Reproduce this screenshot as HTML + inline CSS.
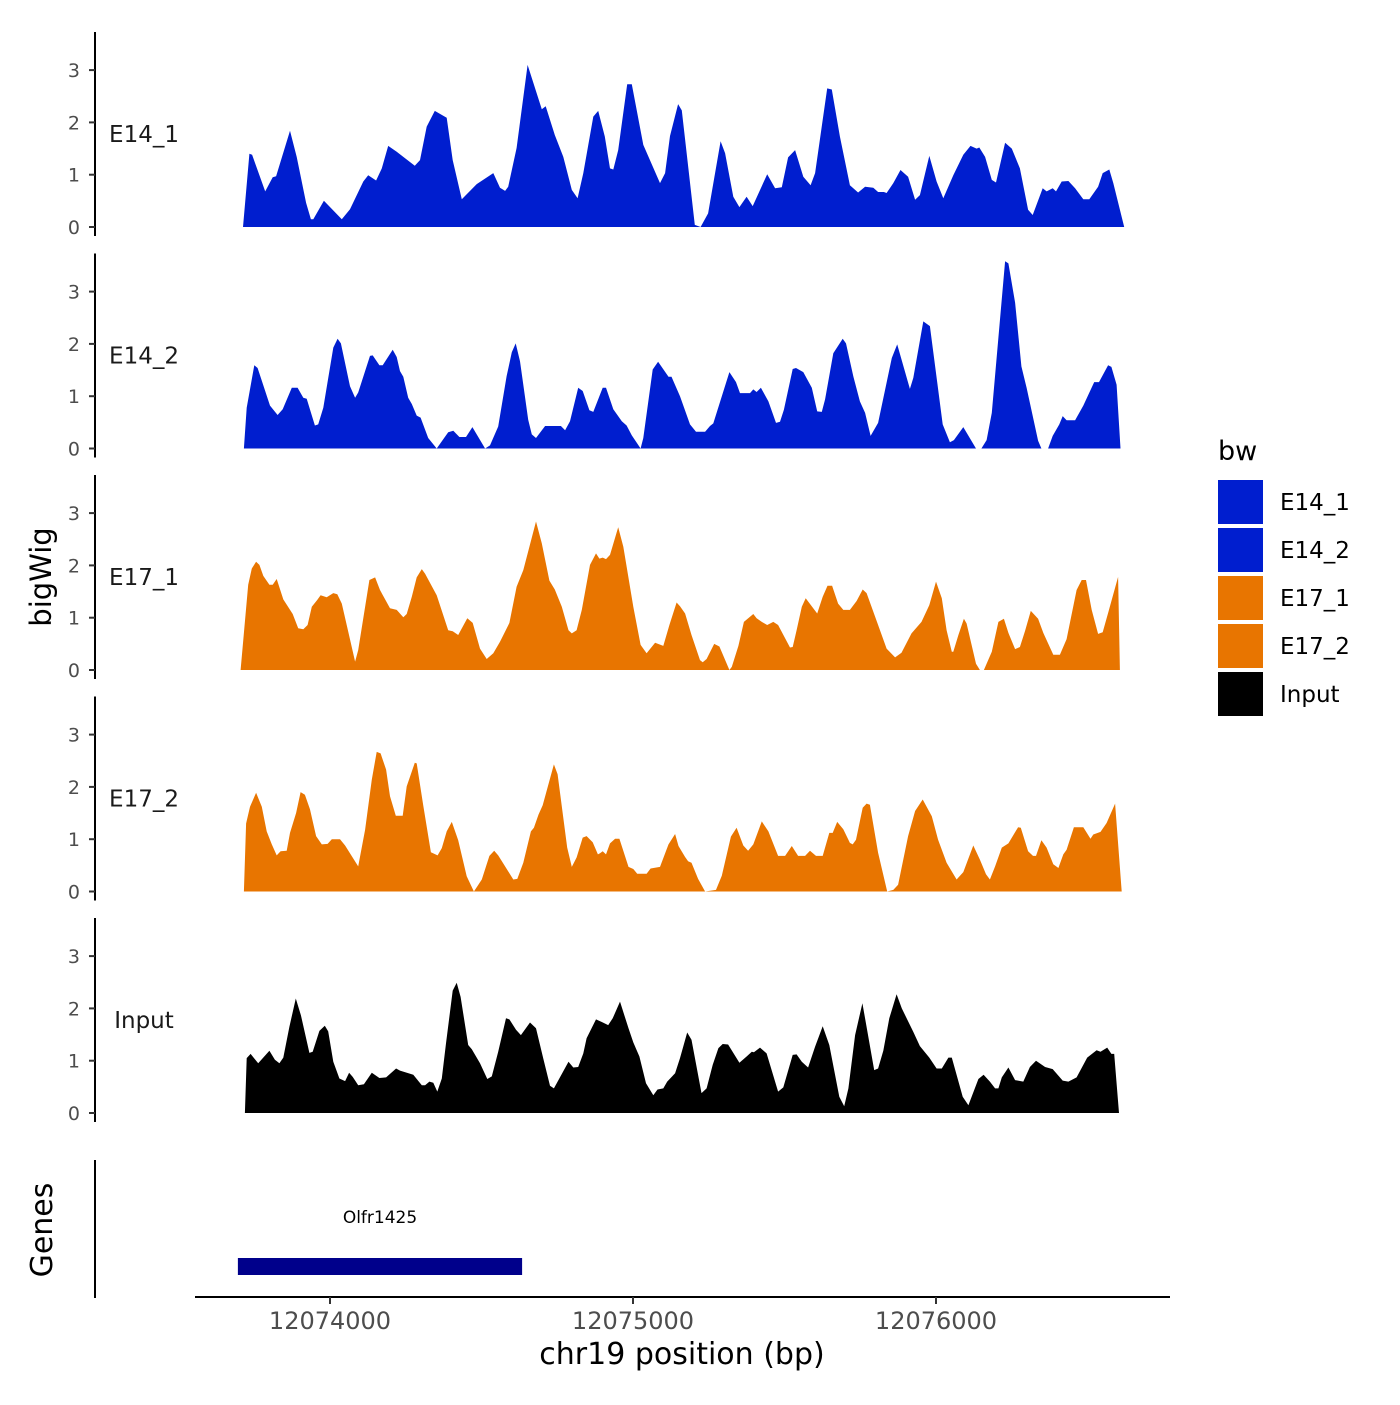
<!DOCTYPE html>
<html><head><meta charset="utf-8"><style>
html,body{margin:0;padding:0;background:#fff;}
svg text{font-family:"DejaVu Sans","Liberation Sans",sans-serif;}
</style></head><body>
<svg id="chart" xmlns="http://www.w3.org/2000/svg" width="1400" height="1400" viewBox="0 0 1400 1400">
<rect width="1400" height="1400" fill="#fff"/>
<g id="panels"></g>
<text transform="translate(51,577) rotate(-90)" text-anchor="middle" font-size="29" fill="#000">bigWig</text>
<text transform="translate(52,1230) rotate(-90)" text-anchor="middle" font-size="30" fill="#000">Genes</text>
<line x1="95" y1="1160" x2="95" y2="1298" stroke="#000" stroke-width="2"/>
<g id="genes"></g>
<line x1="195" y1="1297" x2="1170" y2="1297" stroke="#000" stroke-width="2"/>
<g id="xaxis"></g>
<text x="682" y="1364" text-anchor="middle" font-size="30" fill="#000">chr19 position (bp)</text>
<g id="legend"></g>
</svg>
<script>
const origin = 12074000;
const xTicks = [12074000, 12075000, 12076000];
const yTicks = [0, 1, 2, 3];
const trackNames = ["E14_1", "E14_2", "E17_1", "E17_2", "Input"];
const trackColors = ["#001ECF", "#001ECF", "#E87500", "#E87500", "#000000"];

const e14_1_pos = [-287,-266,-257,-214,-189,-178,-132,-110,-79,-63,-55,-20,39,66,110,126,152,171,192,220,253,280,297,319,346,385,405,435,484,539,561,578,588,616,652,699,712,742,770,798,817,836,869,885,907,924,935,951,981,996,1034,1089,1106,1122,1149,1161,1204,1223,1248,1289,1304,1331,1351,1375,1395,1443,1469,1491,1512,1535,1562,1586,1601,1641,1656,1683,1716,1743,1766,1793,1809,1828,1837,1859,1883,1908,1931,1947,1978,2002,2024,2057,2090,2114,2134,2143,2162,2184,2198,2228,2250,2277,2304,2319,2352,2365,2385,2396,2415,2437,2459,2486,2506,2535,2550,2572,2585,2621];
const e14_1_val = [0,1.40,1.38,0.68,0.95,0.97,1.84,1.34,0.46,0.15,0.15,0.50,0.15,0.34,0.87,0.99,0.89,1.12,1.55,1.44,1.29,1.17,1.28,1.92,2.22,2.09,1.28,0.53,0.82,1.03,0.75,0.69,0.77,1.51,3.10,2.25,2.31,1.76,1.34,0.71,0.55,1.03,2.11,2.22,1.73,1.12,1.10,1.47,2.73,2.73,1.57,0.84,1.03,1.74,2.35,2.23,0.04,0,0.26,1.64,1.41,0.58,0.38,0.58,0.40,1.01,0.74,0.76,1.33,1.47,0.96,0.80,1.03,2.65,2.63,1.73,0.80,0.66,0.77,0.75,0.67,0.67,0.65,0.84,1.09,0.96,0.52,0.61,1.36,0.87,0.55,0.99,1.38,1.55,1.50,1.52,1.34,0.90,0.85,1.61,1.50,1.12,0.33,0.23,0.74,0.68,0.74,0.68,0.87,0.88,0.74,0.53,0.53,0.77,1.03,1.10,0.84,0];

const e14_2_pos = [-284,-275,-250,-239,-198,-173,-156,-126,-107,-88,-77,-50,-39,-22,11,25,36,66,83,93,132,141,163,174,207,220,231,242,258,270,286,299,324,352,390,407,427,449,470,512,528,555,583,600,613,627,654,666,680,710,762,776,792,819,834,856,869,900,911,935,963,979,996,1025,1034,1065,1083,1117,1127,1155,1188,1208,1238,1254,1265,1318,1340,1353,1386,1397,1408,1422,1447,1472,1485,1498,1527,1538,1562,1590,1608,1623,1634,1661,1692,1703,1727,1749,1766,1784,1809,1854,1872,1914,1925,1958,1980,2022,2046,2059,2090,2132,2150,2167,2184,2228,2239,2261,2282,2299,2337,2348,2370,2385,2407,2418,2431,2459,2486,2522,2538,2568,2579,2596,2609];
const e14_2_val = [0,0.78,1.59,1.54,0.82,0.64,0.75,1.16,1.16,0.97,0.95,0.44,0.46,0.78,1.93,2.10,2.01,1.19,0.97,1.07,1.77,1.78,1.59,1.59,1.89,1.75,1.48,1.37,0.97,0.85,0.63,0.59,0.20,0,0.31,0.34,0.22,0.22,0.41,0,0.06,0.42,1.38,1.84,2.01,1.67,0.55,0.27,0.20,0.43,0.43,0.35,0.52,1.16,1.10,0.73,0.70,1.16,1.16,0.75,0.52,0.44,0.25,0,0.20,1.51,1.66,1.37,1.37,1.00,0.46,0.32,0.32,0.43,0.48,1.46,1.27,1.06,1.06,1.13,1.08,1.16,0.90,0.49,0.51,0.74,1.52,1.54,1.46,1.16,0.71,0.70,0.94,1.82,2.10,2.01,1.38,0.90,0.68,0.24,0.49,1.73,1.99,1.14,1.35,2.43,2.34,0.46,0.12,0.16,0.41,0,0,0.16,0.68,3.58,3.54,2.79,1.57,1.16,0.15,0,0,0.24,0.46,0.62,0.54,0.54,0.82,1.27,1.27,1.59,1.56,1.22,0];

const e17_1_pos = [-295,-270,-258,-244,-233,-220,-200,-189,-176,-154,-123,-105,-88,-74,-60,-42,-31,-11,11,24,39,83,93,130,149,165,198,220,242,253,270,286,303,314,352,390,405,423,453,471,495,517,539,561,592,616,638,680,699,724,742,765,787,798,814,831,858,878,889,900,911,924,951,968,1001,1025,1045,1073,1100,1120,1144,1155,1172,1193,1221,1230,1243,1268,1285,1318,1326,1348,1366,1397,1408,1425,1443,1463,1479,1518,1527,1540,1557,1570,1608,1626,1642,1657,1677,1694,1716,1738,1758,1771,1809,1837,1865,1886,1919,1952,1978,2000,2019,2035,2052,2057,2074,2092,2101,2132,2145,2158,2184,2206,2224,2239,2261,2277,2294,2313,2337,2354,2387,2409,2431,2464,2481,2495,2514,2535,2550,2568,2601,2607];
const e17_1_val = [0,1.63,1.94,2.07,2.01,1.80,1.63,1.63,1.74,1.35,1.07,0.80,0.78,0.86,1.21,1.34,1.43,1.39,1.47,1.45,1.27,0.16,0.38,1.72,1.77,1.53,1.18,1.15,1.01,1.07,1.40,1.77,1.93,1.84,1.43,0.76,0.74,0.67,0.99,0.90,0.41,0.21,0.32,0.54,0.90,1.59,1.91,2.84,2.42,1.71,1.54,1.21,0.76,0.70,0.76,1.15,2.01,2.23,2.13,2.15,2.12,2.20,2.73,2.36,1.21,0.48,0.32,0.52,0.46,0.86,1.29,1.22,1.08,0.67,0.19,0.15,0.21,0.50,0.45,0,0.06,0.46,0.92,1.07,0.99,0.92,0.86,0.92,0.86,0.43,0.44,0.76,1.21,1.37,1.08,1.40,1.61,1.61,1.27,1.15,1.15,1.32,1.54,1.47,0.86,0.41,0.24,0.33,0.70,0.92,1.24,1.69,1.37,0.76,0.35,0.35,0.67,0.98,0.89,0.12,0,0,0.35,0.92,0.98,0.71,0.40,0.44,0.75,1.13,0.98,0.71,0.29,0.29,0.59,1.53,1.72,1.72,1.15,0.69,0.72,1.09,1.78,0];

const e17_2_pos = [-284,-277,-264,-244,-225,-209,-192,-176,-163,-143,-132,-112,-97,-83,-66,-46,-27,-8,6,33,50,93,116,138,154,167,185,198,217,240,253,280,286,308,333,355,369,385,402,423,451,475,501,526,542,555,605,618,638,663,673,688,702,739,751,783,798,814,834,847,867,884,891,900,911,924,941,955,985,1001,1014,1045,1058,1089,1117,1139,1150,1172,1182,1193,1215,1238,1274,1293,1323,1342,1364,1380,1397,1425,1447,1479,1502,1524,1545,1568,1584,1604,1626,1648,1659,1674,1694,1716,1725,1736,1758,1771,1782,1809,1839,1859,1875,1908,1931,1956,1986,2007,2035,2068,2090,2123,2145,2165,2178,2195,2217,2239,2271,2280,2304,2320,2330,2348,2365,2387,2404,2420,2431,2455,2486,2510,2519,2543,2563,2591,2613];
const e17_2_val = [0,1.30,1.62,1.89,1.62,1.15,0.90,0.69,0.77,0.78,1.12,1.50,1.90,1.85,1.57,1.06,0.90,0.91,1.00,1.00,0.88,0.48,1.18,2.14,2.67,2.64,2.33,1.82,1.45,1.45,2.01,2.46,2.45,1.64,0.75,0.69,0.83,1.15,1.33,0.98,0.29,0,0.23,0.68,0.78,0.69,0.23,0.24,0.55,1.15,1.22,1.47,1.65,2.43,2.24,0.84,0.47,0.65,1.03,1.06,0.94,0.71,0.73,0.77,0.71,0.92,1.01,1.01,0.47,0.43,0.34,0.34,0.44,0.47,0.90,1.10,0.87,0.66,0.58,0.55,0.24,0,0.03,0.30,1.05,1.22,0.88,0.78,0.90,1.34,1.15,0.68,0.68,0.87,0.68,0.68,0.78,0.68,0.68,1.12,1.12,1.33,1.19,0.93,0.90,0.99,1.60,1.68,1.66,0.74,0,0.03,0.13,1.06,1.54,1.76,1.44,0.99,0.55,0.23,0.37,0.88,0.61,0.33,0.23,0.48,0.84,0.92,1.23,1.22,0.77,0.68,0.68,0.98,0.84,0.52,0.45,0.71,0.80,1.23,1.23,1.01,1.09,1.14,1.31,1.68,0];

const input_pos = [-281,-275,-262,-237,-200,-182,-167,-154,-134,-113,-96,-68,-57,-35,-17,-6,11,31,50,63,75,93,112,138,163,185,218,231,275,303,314,328,341,354,369,383,405,418,431,456,468,495,519,534,555,581,592,614,630,660,680,704,726,739,787,803,819,836,847,878,897,918,933,957,985,1001,1021,1043,1067,1081,1100,1113,1139,1155,1179,1193,1226,1243,1263,1282,1296,1314,1351,1375,1392,1399,1419,1441,1479,1496,1527,1540,1557,1578,1601,1626,1648,1681,1697,1711,1733,1757,1796,1809,1826,1846,1870,1887,1925,1947,1978,2002,2019,2041,2052,2088,2107,2140,2157,2178,2195,2206,2217,2239,2261,2288,2310,2330,2360,2385,2418,2437,2464,2499,2530,2543,2565,2579,2588,2604];
const input_val = [0,1.05,1.13,0.95,1.19,1.02,0.95,1.06,1.65,2.19,1.87,1.15,1.17,1.57,1.67,1.56,0.98,0.66,0.61,0.77,0.69,0.53,0.55,0.77,0.67,0.68,0.85,0.81,0.73,0.53,0.53,0.60,0.58,0.41,0.66,1.33,2.34,2.49,2.22,1.30,1.22,0.95,0.65,0.70,1.17,1.81,1.79,1.59,1.49,1.73,1.62,1.04,0.52,0.47,0.98,0.87,0.88,1.14,1.43,1.79,1.74,1.68,1.81,2.13,1.62,1.35,1.08,0.57,0.34,0.45,0.47,0.60,0.76,1.05,1.54,1.40,0.38,0.47,0.92,1.24,1.32,1.31,0.96,1.08,1.17,1.16,1.25,1.14,0.41,0.49,1.11,1.12,0.98,0.87,1.27,1.66,1.30,0.31,0.13,0.47,1.49,2.10,0.82,0.85,1.19,1.81,2.27,2.00,1.55,1.28,1.06,0.85,0.85,1.06,1.06,0.31,0.15,0.65,0.73,0.60,0.47,0.47,0.68,0.87,0.63,0.60,0.88,1.00,0.88,0.84,0.62,0.60,0.68,1.06,1.20,1.17,1.25,1.13,1.13,0];

const geneNames = ["Olfr1425"];
const geneStarts = [12073696];
const geneEnds = [12074634];

const NS = "http://www.w3.org/2000/svg";
const trackPos = [e14_1_pos, e14_2_pos, e17_1_pos, e17_2_pos, input_pos];
const trackVal = [e14_1_val, e14_2_val, e17_1_val, e17_2_val, input_val];

function xScale(bp){ return 330 + (bp - origin) * 0.303; }
function yScale(v, i){ return (227 + i * 221.5) - v * 52.3; }
function mk(tag, attrs, parent){
  const el = document.createElementNS(NS, tag);
  for (const k in attrs) el.setAttribute(k, attrs[k]);
  parent.appendChild(el);
  return el;
}

const panels = document.getElementById("panels");
for (let i = 0; i < 5; i++) {
  const g = mk("g", {}, panels);
  
  
  const top = 32 + i * 221.5;
  const axis = mk("line", {x1:95, y1:top, x2:95, y2:top + 204, stroke:"#000", "stroke-width":2}, g);
  
  
  yTicks.forEach(t => {
    const y = yScale(t, i);
    const tk = mk("line", {x1:89, y1:y, x2:95, y2:y, stroke:"#333", "stroke-width":2}, g);
    
    
    const lb = mk("text", {x:80, y:y + 7, "text-anchor":"end", "font-size":19, fill:"#4d4d4d"}, g);
    lb.textContent = t;
    
    
  });
  const name = mk("text", {x:144, y:yScale(0, i) - 85, "text-anchor":"middle", "font-size":23, fill:"#1a1a1a"}, g);
  name.textContent = trackNames[i];
  
  
  const pos = trackPos[i], val = trackVal[i];
  const n = Math.min(pos.length, val.length);
  let d = "M" + xScale(origin + pos[0]).toFixed(1) + "," + yScale(0, i).toFixed(1);
  for (let j = 0; j < n; j++) {
    d += " L" + xScale(origin + pos[j]).toFixed(1) + "," + yScale(val[j], i).toFixed(1);
  }
  d += " L" + xScale(origin + pos[n-1]).toFixed(1) + "," + yScale(0, i).toFixed(1) + " Z";
  const area = mk("path", {d:d, fill:trackColors[i], stroke:"none"}, g);
  
  
}

const genes = document.getElementById("genes");
for (let k = 0; k < geneNames.length; k++) {
  const x1 = xScale(geneStarts[k]), x2 = xScale(geneEnds[k]);
  const r = mk("rect", {x:x1, y:1258, width:x2 - x1, height:17, fill:"#00008B"}, genes);
  
  
  const t = mk("text", {x:(x1 + x2) / 2, y:1223, "text-anchor":"middle", "font-size":17, fill:"#000"}, genes);
  t.textContent = geneNames[k];
  
  
}

const xaxis = document.getElementById("xaxis");
xTicks.forEach(t => {
  const x = xScale(t);
  const tk = mk("line", {x1:x, y1:1297, x2:x, y2:1304, stroke:"#333", "stroke-width":2}, xaxis);
  
  
  const lb = mk("text", {x:x, y:1329, "text-anchor":"middle", "font-size":24, fill:"#4d4d4d"}, xaxis);
  lb.textContent = t;
  
  
});

const legend = document.getElementById("legend");
const lt = mk("text", {x:1218, y:460, "font-size":27, fill:"#000"}, legend);
lt.textContent = "bw";


for (let i = 0; i < 5; i++) {
  const y = 480 + i * 48;
  const key = mk("rect", {x:1218, y:y, width:45, height:44, fill:trackColors[i]}, legend);
  
  
  const lb = mk("text", {x:1280, y:y + 30, "font-size":23, fill:"#000"}, legend);
  lb.textContent = trackNames[i];
  
  
}
</script>
</body></html>
